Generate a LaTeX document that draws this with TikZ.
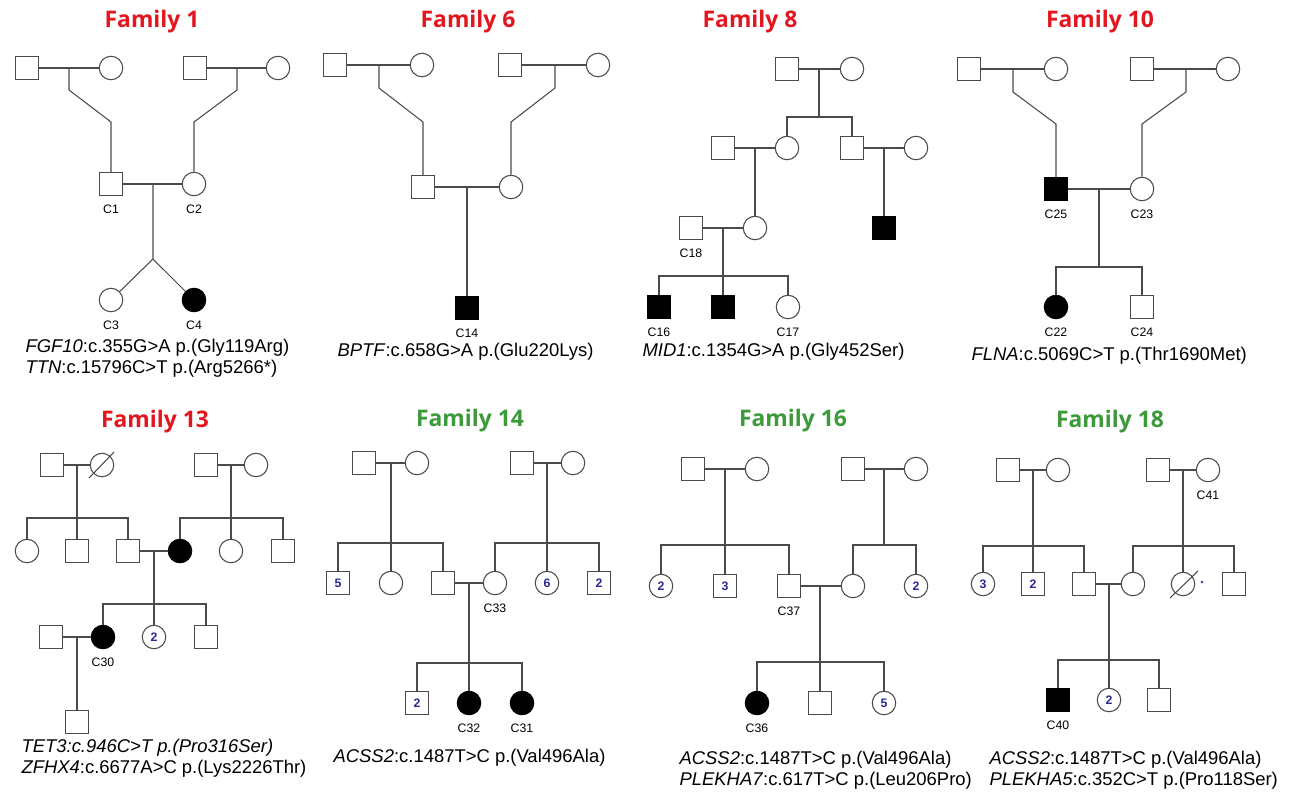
\documentclass[tikz,border=0pt]{standalone}
\usepackage{fontspec}
\setmainfont{Liberation Sans}
\newfontfamily\titlefont{Open Sans}
\definecolor{famred}{HTML}{E3161F}
\definecolor{famgreen}{HTML}{3D9A3A}
\definecolor{numblue}{HTML}{2A2A96}
\definecolor{linegray}{HTML}{4A4A4A}

\begin{document}
\begin{tikzpicture}[x=0.02cm, y=-0.02cm, line width=0.6pt, color=linegray,
        every label/.style={font=\fontsize{7}{8}\selectfont, text=black, inner sep=0pt},
        label distance=4.6pt]
    \tikzstyle{male} = [draw=linegray, rectangle, minimum size=0.46cm, inner sep=0pt, font=\fontsize{7}{7}\selectfont\bfseries, text=numblue]
    \tikzstyle{female} = [male, circle, minimum size=0.47cm]
    \tikzstyle{aff} = [fill=black, draw=black]
    \tikzstyle{redtitle} = [font=\titlefont\bfseries\fontsize{13}{15}\selectfont, text=famred]
    \tikzstyle{greentitle} = [redtitle, text=famgreen]
    \tikzstyle{mut} = [anchor=west, align=left, inner sep=0pt, text=black, font=\fontsize{10.5}{11.9}\selectfont]
    \fill[white] (0,0) rectangle (1292,795);
    \useasboundingbox (0,0) rectangle (1292,795);

    \node[redtitle](ft1) at (152,22){Family 1};
    \node[male](a1) at (27,68){};
    \node[female](a2) at (111,68){};
    \node[male](a3) at (195,68){};
    \node[female](a4) at (278,68){};
    \node[male, label=below:C1](c1) at (111,184){};
    \node[female, label=below:C2](c2) at (194,184){};
    \node[female, label=below:C3](c3) at (111,300){};
    \node[female, aff, label=below:C4](c4) at (194,300){};
    \coordinate(a12) at (69,68);
    \coordinate(a34) at (237,68);
    \coordinate(c12) at (153,184);
    \path (a1) edge (a2);
    \path (a3) edge (a4);
    \path (c1) edge (c2);
    \draw (a12) -- ++(0,22) -- (c1 |- 0,122) -- (c1);
    \draw (a34) -- ++(0,22) -- (c2 |- 0,122) -- (c2);
    \draw (c12) -- ++(0,75) coordinate(t1) -- (c3);
    \path (t1) edge (c4);
    \node[mut](g1) at (25,358){\textit{FGF10}:c.355G>A p.(Gly119Arg)\\\textit{TTN}:c.15796C>T p.(Arg5266*)};

    \node[redtitle](ft6) at (468,22){Family 6};
    \node[male](b1) at (335,65){};
    \node[female](b2) at (422,65){};
    \node[male](b3) at (510,65){};
    \node[female](b4) at (598,65){};
    \node[male](b5) at (423,187){};
    \node[female](b6) at (511,187){};
    \node[male, aff, label=below:C14](c14) at (467,308){};
    \coordinate(b12) at (379,65);
    \coordinate(b34) at (555,65);
    \coordinate(b56) at (467,187);
    \path (b1) edge (b2);
    \path (b3) edge (b4);
    \path (b5) edge (b6);
    \draw (b12) -- ++(0,23) -- (b5 |- 0,122) -- (b5);
    \draw (b34) -- ++(0,23) -- (b6 |- 0,122) -- (b6);
    \path (b56) edge (c14);
    \node[mut](g6) at (337,352){\textit{BPTF}:c.658G>A p.(Glu220Lys)};

    \node[redtitle](ft8) at (750,22){Family 8};
    \node[male](d1) at (787,69){};
    \node[female](d2) at (852,69){};
    \node[male](d3) at (723,148){};
    \node[female](d4) at (787,148){};
    \node[male](d5) at (852,148){};
    \node[female](d6) at (916,148){};
    \node[male, label=below:C18](c18) at (691,228){};
    \node[female](d8) at (755,228){};
    \node[male, aff](d9) at (884,228){};
    \node[male, aff, label=below:C16](c16) at (659,307){};
    \node[male, aff](d10) at (723,307){};
    \node[female, label=below:C17](c17) at (788,307){};
    \coordinate(d12) at (819,69);
    \coordinate(d34) at (755,148);
    \coordinate(d56) at (884,148);
    \coordinate(d78) at (723,228);
    \path (d1) edge (d2);
    \path (d3) edge (d4);
    \path (d5) edge (d6);
    \path (c18) edge (d8);
    \draw (d12) -- ++(0,48) coordinate(s8);
    \draw (d4) -- (d4 |- s8) -- (d5 |- s8) -- (d5);
    \path (d34) edge (d8);
    \path (d56) edge (d9);
    \draw (d78) -- (d10);
    \draw (c16) -- (c16 |- 0,276) -- (c17 |- 0,276) -- (c17);
    \node[mut](g8) at (642,352){\textit{MID1}:c.1354G>A p.(Gly452Ser)};

    \node[redtitle](ft10) at (1100,22){Family 10};
    \node[male](e1) at (969,69){};
    \node[female](e2) at (1056,69){};
    \node[male](e3) at (1142,69){};
    \node[female](e4) at (1228,69){};
    \node[male, aff, label=below:C25](c25) at (1056,189){};
    \node[female, label=below:C23](c23) at (1142,189){};
    \node[female, aff, label=below:C22](c22) at (1056,307){};
    \node[male, label=below:C24](c24) at (1142,307){};
    \coordinate(e12) at (1013,69);
    \coordinate(e34) at (1186,69);
    \coordinate(e56) at (1099,189);
    \path (e1) edge (e2);
    \path (e3) edge (e4);
    \path (c25) edge (c23);
    \draw (e12) -- ++(0,23) -- (c25 |- 0,124) -- (c25);
    \draw (e34) -- ++(0,23) -- (c23 |- 0,124) -- (c23);
    \draw (e56) -- ++(0,78) coordinate(s10);
    \draw (c22) -- (c22 |- s10) -- (c24 |- s10) -- (c24);
    \node[mut](g10) at (971,356){\textit{FLNA}:c.5069C>T p.(Thr1690Met)};

    \node[redtitle](ft13) at (155,422){Family 13};
    \node[male](h1) at (52,465){};
    \node[female](h2) at (102,465){};
    \node[male](h6) at (206,465){};
    \node[female](h7) at (256,465){};
    \node[female](h3) at (27,551){};
    \node[male](h4) at (77,551){};
    \node[male](h5) at (128,551){};
    \node[female, aff](h8) at (180,551){};
    \node[female](h9) at (231,551){};
    \node[male](h10) at (283,551){};
    \node[male](h13) at (51,637){};
    \node[female, aff, label=below:C30](c30) at (103,637){};
    \node[female](h11) at (154,637){2};
    \node[male](h12) at (206,637){};
    \node[male](h14) at (77,722){};
    \draw (h2.center) ++(-13,13) -- ++(25,-26);
    \coordinate(h12c) at (77,465);
    \coordinate(h67) at (231,465);
    \coordinate(h58) at (154,551);
    \coordinate(h1330) at (77,637);
    \path (h1) edge (h2);
    \path (h6) edge (h7);
    \path (h5) edge (h8);
    \path (h13) edge (c30);
    \draw (h12c) -- (h4);
    \draw (h3) -- (h3 |- 0,518) -- (h5 |- 0,518) -- (h5);
    \draw (h67) -- (h9);
    \draw (h8) -- (h8 |- 0,518) -- (h10 |- 0,518) -- (h10);
    \draw (h58) -- (h11);
    \draw (c30) -- (c30 |- 0,604) -- (h12 |- 0,604) -- (h12);
    \path (h1330) edge (h14);
    \node[mut](g13) at (21,758){\textit{TET3:c.946C>T p.(Pro316Ser)}\\\textit{ZFHX4}:c.6677A>C p.(Lys2226Thr)};

    \node[greentitle](ft14) at (470,421){Family 14};
    \node[male](k1) at (364,463){};
    \node[female](k2) at (417,463){};
    \node[male](k6) at (522,463){};
    \node[female](k7) at (573,463){};
    \node[male](k3) at (338,583){5};
    \node[female](k4) at (391,583){};
    \node[male](k5) at (443,583){};
    \node[female, label=below:C33](c33) at (495,583){};
    \node[female](k8) at (547,583){6};
    \node[male](k9) at (599,583){2};
    \node[male](k10) at (417,703){2};
    \node[female, aff, label=below:C32](c32) at (469,703){};
    \node[female, aff, label=below:C31](c31) at (522,703){};
    \coordinate(k12) at (391,463);
    \coordinate(k67) at (547,463);
    \coordinate(k533) at (469,583);
    \path (k1) edge (k2);
    \path (k6) edge (k7);
    \path (k5) edge (c33);
    \draw (k12) -- (k4);
    \draw (k3) -- (k3 |- 0,543) -- (k5 |- 0,543) -- (k5);
    \draw (k67) -- (k8);
    \draw (c33) -- (c33 |- 0,543) -- (k9 |- 0,543) -- (k9);
    \draw (k533) -- (c32);
    \draw (k10) -- (k10 |- 0,663) -- (c31 |- 0,663) -- (c31);
    \node[mut](g14) at (333,758){\textit{ACSS2}:c.1487T>C p.(Val496Ala)};

    \node[greentitle](ft16) at (793,421){Family 16};
    \node[male](n1) at (693,469){};
    \node[female](n2) at (757,469){};
    \node[male](n5) at (853,469){};
    \node[female](n6) at (916,469){};
    \node[female](n3) at (661,586){2};
    \node[male](n4) at (725,586){3};
    \node[male, label=below:C37](c37) at (789,586){};
    \node[female](n7) at (853,586){};
    \node[female](n8) at (916,586){2};
    \node[female, aff, label=below:C36](c36) at (757,703){};
    \node[male](n9) at (820,703){};
    \node[female](n10) at (884,703){5};
    \coordinate(n12) at (725,469);
    \coordinate(n56) at (884,469);
    \coordinate(n377) at (820,586);
    \path (n1) edge (n2);
    \path (n5) edge (n6);
    \path (c37) edge (n7);
    \draw (n12) -- (n4);
    \draw (n3) -- (n3 |- 0,545) -- (c37 |- 0,545) -- (c37);
    \draw (n56) -- ++(0,76);
    \draw (n7) -- (n7 |- 0,545) -- (n8 |- 0,545) -- (n8);
    \draw (n377) -- (n9);
    \draw (c36) -- (c36 |- 0,662) -- (n10 |- 0,662) -- (n10);
    \node[mut](g16) at (679,770){\textit{ACSS2}:c.1487T>C p.(Val496Ala)\\\textit{PLEKHA7}:c.617T>C p.(Leu206Pro)};

    \node[greentitle](ft18) at (1110,422){Family 18};
    \node[male](p1) at (1008,470){};
    \node[female](p2) at (1058,470){};
    \node[male](p6) at (1158,470){};
    \node[female, label=below:C41](c41) at (1208,470){};
    \node[female](p3) at (983,584){3};
    \node[male](p4) at (1033,584){2};
    \node[male](p5) at (1084,584){};
    \node[female](p7) at (1133,584){};
    \node[female](p8) at (1183,584){};
    \node[male](p9) at (1234,584){};
    \node[male, aff, label=below:C40](c40) at (1058,700){};
    \node[female](p10) at (1109,700){2};
    \node[male](p11) at (1159,700){};
    \draw (p8.center) ++(-13,14) -- ++(28,-27);
    \fill[numblue] (p8.center) ++(19,-2) circle (1.3);
    \coordinate(p12) at (1033,470);
    \coordinate(p641) at (1183,470);
    \coordinate(p57) at (1109,584);
    \path (p1) edge (p2);
    \path (p6) edge (c41);
    \path (p5) edge (p7);
    \draw (p12) -- (p4);
    \draw (p3) -- (p3 |- 0,546) -- (p5 |- 0,546) -- (p5);
    \draw (p641) -- (p8);
    \draw (p7) -- (p7 |- 0,546) -- (p9 |- 0,546) -- (p9);
    \draw (p57) -- (p10);
    \draw (c40) -- (c40 |- 0,660) -- (p11 |- 0,660) -- (p11);
    \node[mut](g18) at (989,770){\textit{ACSS2}:c.1487T>C p.(Val496Ala)\\\textit{PLEKHA5}:c.352C>T p.(Pro118Ser)};
\end{tikzpicture}
\end{document}
